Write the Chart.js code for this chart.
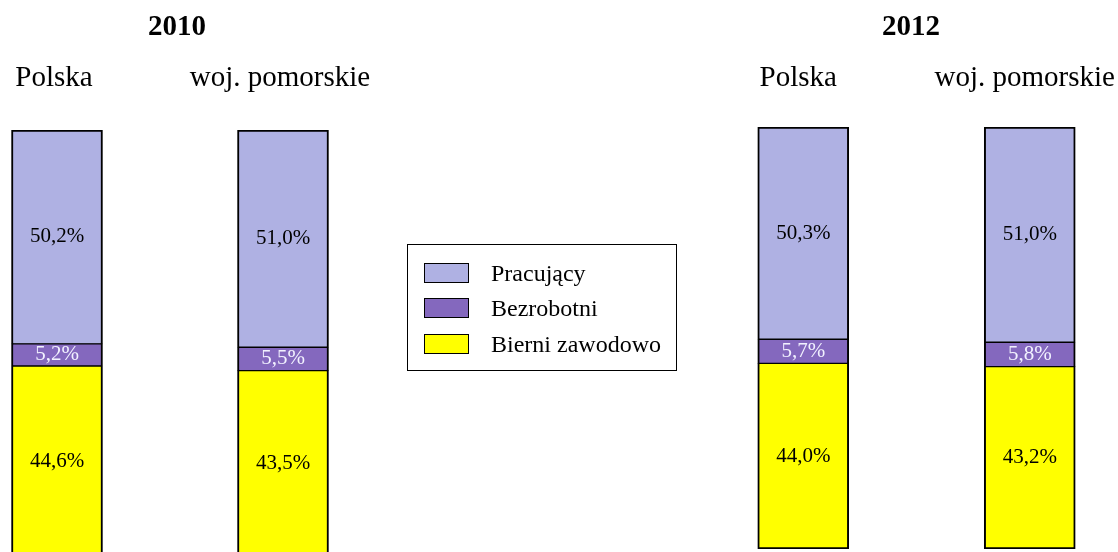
<!DOCTYPE html>
<html lang="pl">
<head>
<meta charset="UTF-8">
<title>Aktywność ekonomiczna ludności</title>
<script src="https://cdn.jsdelivr.net/npm/chart.js"></script>
<style>
    body {
        margin: 0;
        width: 1118px;
        height: 552px;
        overflow: hidden;
        background: #fff;
        position: relative;
        font-family: "Liberation Serif", "Times New Roman", serif;
    }
    canvas {
        position: absolute;
        top: 0;
    }
    #c2010 { left: -56px; }
    #c2012 { left: 679px; }
    .legend {
        position: absolute;
        left: 407px;
        top: 244px;
        width: 268px;
        height: 125px;
        border: 1.5px solid #000;
        box-sizing: content-box;
    }
    .legend .item {
        position: absolute;
        left: 16px;
        height: 22px;
        display: flex;
        align-items: center;
        font-size: 24px;
        color: #000;
    }
    .legend .box {
        width: 43px;
        height: 18px;
        border: 1.5px solid #000;
        margin-right: 22px;
    }
</style>
</head>
<body>
<canvas id="c2010" width="466" height="556"></canvas>
<canvas id="c2012" width="464" height="549"></canvas>
<div class="legend" id="legend"></div>

<script>
    // dane
    const categories = ['Polska', 'woj. pomorskie'];
    const seriesNames = ['Pracujący', 'Bezrobotni', 'Bierni zawodowo'];
    const seriesColors = ['#AFB1E3', '#8468BE', '#FFFF00'];
    const labelColors = ['#000000', '#F2F2FF', '#000000'];

    const pracujacy2010 = [50.2, 51.0];
    const bezrobotni2010 = [5.2, 5.5];
    const bierni2010 = [44.6, 43.5];

    const pracujacy2012 = [50.3, 51.0];
    const bezrobotni2012 = [5.7, 5.8];
    const bierni2012 = [44.0, 43.2];

    // obramowanie segmentów - cienka linia między segmentami
    const borders = [
        { top: 2, bottom: 1, left: 2, right: 2 },
        { top: 1, bottom: 1, left: 2, right: 2 },
        { top: 1, bottom: 2, left: 2, right: 2 }
    ];

    // etykiety z wartościami wewnątrz słupków
    const valueLabels = {
        id: 'valueLabels',
        afterDatasetsDraw(chart) {
            const ctx = chart.ctx;
            ctx.save();
            ctx.font = '21px "Liberation Serif"';
            ctx.textAlign = 'center';
            ctx.textBaseline = 'middle';
            chart.data.datasets.forEach((ds, i) => {
                const meta = chart.getDatasetMeta(i);
                ctx.fillStyle = ds.labelColor;
                meta.data.forEach((bar, j) => {
                    const txt = ds.data[j].toFixed(1).replace('.', ',') + '%';
                    ctx.fillText(txt, bar.x, (bar.y + bar.base) / 2);
                });
            });
            ctx.restore();
        }
    };

    function makeChart(id, year, values, xHeight, tickGap, labelShift, yPos, yWidth) {
        // kolejność od dołu: bierni, bezrobotni, pracujący
        const datasets = [2, 1, 0].map(k => ({
            label: seriesNames[k],
            data: values[k],
            backgroundColor: seriesColors[k],
            labelColor: labelColors[k],
            borderColor: '#000',
            borderWidth: borders[k],
            borderSkipped: false,
            barThickness: 91
        }));
        return new Chart(document.getElementById(id), {
            type: 'bar',
            data: { labels: categories, datasets: datasets },
            options: {
                responsive: false,
                animation: false,
                plugins: {
                    legend: { display: false },
                    tooltip: { enabled: false },
                    title: {
                        display: true,
                        text: year,
                        color: '#000',
                        font: { family: 'Liberation Serif', size: 29, weight: 'bold' },
                        padding: { top: 10, bottom: 0 }
                    }
                },
                scales: {
                    x: {
                        position: 'top',
                        stacked: true,
                        // niewidoczne kreski podziałki odsuwają podpisy od słupków
                        grid: { display: false, drawTicks: true, tickLength: tickGap },
                        border: { display: false },
                        ticks: {
                            color: '#000',
                            padding: 0,
                            labelOffset: labelShift,
                            font: { family: 'Liberation Serif', size: 29 }
                        },
                        afterFit(scale) { scale.height = xHeight; }
                    },
                    y: {
                        position: yPos,
                        stacked: true,
                        min: 0,
                        max: 100,
                        grid: { display: false, drawTicks: false },
                        border: { display: false },
                        ticks: { display: false },
                        afterFit(scale) { scale.width = yWidth; }
                    }
                }
            },
            plugins: [valueLabels]
        });
    }

    makeChart('c2010', '2010', [pracujacy2010, bezrobotni2010, bierni2010], 85.2, 34, -3, 'right', 14);
    makeChart('c2012', '2012', [pracujacy2012, bezrobotni2012, bierni2012], 82.2, 31, -5, 'left', 11);

    // legenda
    const legend = document.getElementById('legend');
    const rowTops = [17, 52, 88];
    seriesNames.forEach((name, i) => {
        const item = document.createElement('div');
        item.className = 'item';
        item.style.top = rowTops[i] + 'px';
        item.innerHTML = '<span class="box" style="background:' + seriesColors[i] + '"></span>' + name;
        legend.appendChild(item);
    });
</script>
</body>
</html>
